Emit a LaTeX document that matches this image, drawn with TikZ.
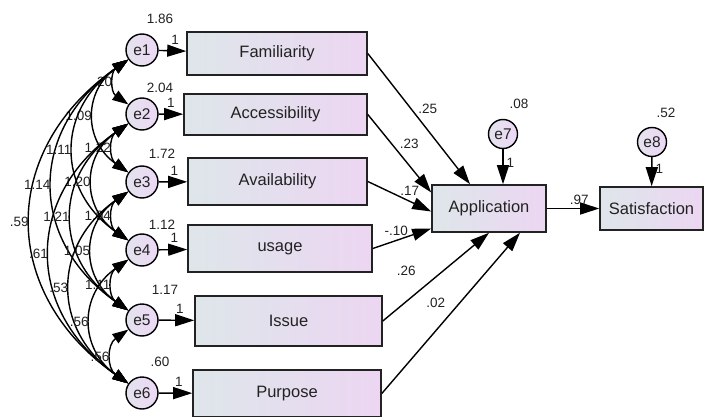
\documentclass[tikz,border=0pt]{standalone}
\usepackage{fontspec}
\setmainfont{Liberation Sans}
\usetikzlibrary{arrows.meta,calc}
\definecolor{boxleft}{RGB}{222,230,234}
\definecolor{boxright}{RGB}{236,214,242}
\definecolor{errleft}{RGB}{228,226,238}
\definecolor{errright}{RGB}{236,216,244}
\definecolor{inkgray}{RGB}{34,34,34}
\tikzset{
  sem-line/.style={line width=1.4pt, draw=black},
  sem-arrow/.style={sem-line, -{Triangle[length=19pt,width=12pt]}},
  cov-arrow/.style={
    sem-line,
    {Triangle[length=16pt,width=11pt]}-{Triangle[length=16pt,width=11pt]},
    bend right=55, looseness=1.25
  },
  var-box/.style={draw=inkgray, line width=1.6pt, left color=boxleft, right color=boxright,
    inner sep=0pt, font=\fontsize{16.5}{18}\selectfont, text=inkgray},
  err-circle/.style={circle, draw=black, line width=1.4pt, left color=errleft, right color=errright,
    minimum size=32pt, inner sep=0pt, font=\fontsize{15.5}{17}\selectfont, text=inkgray},
  num-label/.style={font=\fontsize{13.5}{15}\selectfont, text=inkgray, inner sep=2pt}
}

\begin{document}
\begin{tikzpicture}[x=1pt, y=-1pt]
  \useasboundingbox (0,0) rectangle (709,417);
  % Observed variables
  \node[var-box, minimum width=180pt, minimum height=43pt] (fam) at (277,53.5) {Familiarity};
  \node[var-box, minimum width=183pt, minimum height=41pt] (acc) at (275.5,114.5) {Accessibility};
  \node[var-box, minimum width=179pt, minimum height=47pt] (avail) at (277.5,181.5) {Availability};
  \node[var-box, minimum width=184pt, minimum height=47pt] (usage) at (280,248.5) {usage};
  \node[var-box, minimum width=187pt, minimum height=50pt] (issue) at (288.5,321) {Issue};
  \node[var-box, minimum width=188pt, minimum height=47pt] (purp) at (287,393.5) {Purpose};
  \node[var-box, minimum width=114pt, minimum height=47pt] (app) at (489,208.5) {Application};
  \node[var-box, minimum width=103pt, minimum height=43pt] (sat) at (651.5,208.5) {Satisfaction};
  % Error terms
  \node[err-circle] (e1) at (142,50) {e1};
  \node[err-circle] (e2) at (142,114) {e2};
  \node[err-circle] (e3) at (142,182) {e3};
  \node[err-circle] (e4) at (142,250) {e4};
  \node[err-circle] (e5) at (142,320) {e5};
  \node[err-circle] (e6) at (142,393) {e6};
  \node[err-circle, minimum size=29pt] (e7) at (503,134) {e7};
  \node[err-circle, minimum size=29pt] (e8) at (652,142) {e8};
  % Variances
  \node[num-label] (v1) at ($(e1)+(18,-31)$) {1.86};
  \node[num-label] (v2) at ($(e2)+(18,-26)$) {2.04};
  \node[num-label] (v3) at ($(e3)+(20,-28)$) {1.72};
  \node[num-label] (v4) at ($(e4)+(20,-25)$) {1.12};
  \node[num-label] (v5) at ($(e5)+(23,-30)$) {1.17};
  \node[num-label] (v6) at ($(e6)+(18,-31)$) {.60};
  \node[num-label] (v7) at ($(e7)+(16,-30)$) {.08};
  \node[num-label] (v8) at ($(e8)+(14,-29)$) {.52};
  % Error to variable
  \draw[sem-arrow] (e1) -- node[num-label, pos=0.6, above=4pt] {1} (fam);
  \draw[sem-arrow] (e2) -- node[num-label, pos=0.5, above=4pt] {1} (acc);
  \draw[sem-arrow] (e3) -- node[num-label, pos=0.55, above=4pt] {1} (avail);
  \draw[sem-arrow] (e4) -- node[num-label, pos=0.55, above=4pt] {1} (usage);
  \draw[sem-arrow] (e5) -- node[num-label, pos=0.6, above=4pt] {1} (issue);
  \draw[sem-arrow] (e6) -- node[num-label, pos=0.6, above=4pt] {1} (purp);
  \draw[sem-arrow] (e7) -- node[num-label, pos=0.4, right=1pt] {1} (e7 |- app.north);
  \draw[sem-arrow] (e8) -- node[num-label, pos=0.4, right=1pt] {1} (sat);
  % Regression paths
  \draw[sem-arrow] (fam.east) -- node[num-label, pos=0.42, right=5pt] {.25} (app);
  \draw[sem-arrow] (acc.east) -- node[num-label, pos=0.37, right=6pt] {.23} ([yshift=16pt]app.west);
  \draw[sem-arrow] (avail.east) -- node[num-label, pos=0.66, above=3pt] {.17} ([yshift=-3pt]app.west);
  \draw[sem-arrow] (usage.east) -- node[num-label, pos=0.4, above=2pt] {-.10} ([yshift=-20pt]app.west);
  \draw[sem-arrow] (issue.east) -- node[num-label, pos=0.4, above left=7pt] {.26} (app.south);
  \draw[sem-arrow] (purp.east) -- node[num-label, pos=0.5, above left=3pt] {.02} ([xshift=31pt]app.south);
  \draw[sem-arrow] (app) -- node[num-label, pos=0.62, above=1pt] {.97} (sat);
  % Covariances
  \foreach \a/\b/\v in {1/2/.20, 1/3/1.09, 1/4/1.11, 1/5/1.14, 1/6/.59,
                        2/3/1.22, 2/4/1.20, 2/5/1.21, 2/6/.61,
                        3/4/1.04, 3/5/1.05, 3/6/.53,
                        4/5/1.11, 4/6/.56, 5/6/.56}
    \draw[cov-arrow] (e\a) to node[num-label, midway, left=0pt] {\v} (e\b);
\end{tikzpicture}
\end{document}
